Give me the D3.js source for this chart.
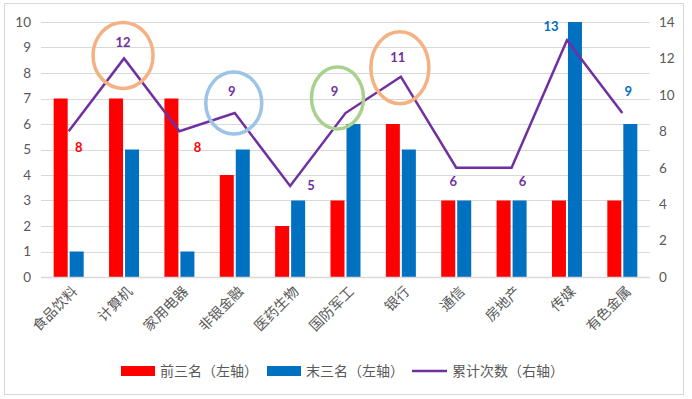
<!DOCTYPE html>
<html><head><meta charset="utf-8">
<script src="https://cdn.jsdelivr.net/npm/d3@7/dist/d3.min.js"></script>
<style>
html,body{margin:0;padding:0;background:#fff;}
svg text{font-family:"Noto Sans CJK SC","Noto Sans",sans-serif;}
</style></head>
<body><svg id="c" width="692" height="399"></svg>
<script>
const categories = ["食品饮料","计算机","家用电器","非银金融","医药生物","国防军工","银行","通信","房地产","传媒","有色金属"];
const top3 = [7,7,7,4,2,3,6,3,3,3,3];
const bottom3 = [1,5,1,5,3,6,5,3,3,10,6];
const cumulative = [8,12,8,9,5,9,11,6,6,13,9];
const leftTicks = [0,1,2,3,4,5,6,7,8,9,10];
const rightTicks = [0,2,4,6,8,10,12,14];
const seriesNames = ["前三名（左轴）","末三名（左轴）","累计次数（右轴）"];
// highlighted categories (circled in the original)
const circled = ["计算机","非银金融","国防军工","银行"];

const svg = d3.select("#c");
const W = 692, H = 399;
const m = {l:41, r:42, t:22, b:122};
const x = d3.scaleBand().domain(categories).range([m.l, W - m.r]);
const yL = d3.scaleLinear().domain([0,10]).range([H - m.b, m.t]);
const yR = d3.scaleLinear().domain([0,14]).range([H - m.b, m.t]);
const cx = c => x(c) + x.bandwidth()/2;
const gray = "#595959";
const numFont = "Lato, 'Liberation Sans', sans-serif";

// border
svg.append("rect").attr("x",4.5).attr("y",3.5).attr("width",679).attr("height",391)
  .attr("fill","none").attr("stroke","#d9d9d9");

// grid
svg.append("g").selectAll("line").data(leftTicks).join("line")
  .attr("x1", m.l).attr("x2", W - m.r)
  .attr("y1", d => Math.round(yL(d))+0.5).attr("y2", d => Math.round(yL(d))+0.5)
  .attr("stroke", "#d9d9d9").attr("stroke-width", 1);

// left axis
const gl = svg.append("g").attr("transform", `translate(${m.l},0)`)
  .call(d3.axisLeft(yL).tickValues(leftTicks).tickSize(0).tickPadding(10));
gl.select(".domain").remove();
gl.selectAll("text").attr("fill", gray).style("font-size","13.5px").style("font-family",numFont);

// right axis
const gr = svg.append("g").attr("transform", `translate(${W - m.r},0)`)
  .call(d3.axisRight(yR).tickValues(rightTicks).tickSize(0).tickPadding(9));
gr.select(".domain").remove();
gr.selectAll("text").attr("fill", gray).style("font-size","13.5px").style("font-family",numFont);

// bars
const bw = 14, gap = 1;
svg.append("g").selectAll("rect").data(categories).join("rect")
  .attr("x", c => cx(c) - gap - bw).attr("width", bw)
  .attr("y", (c,i) => yL(top3[i])).attr("height", (c,i) => yL(0) - yL(top3[i]))
  .attr("fill", "#ff0000");
svg.append("g").selectAll("rect").data(categories).join("rect")
  .attr("x", c => cx(c) + gap).attr("width", bw)
  .attr("y", (c,i) => yL(bottom3[i])).attr("height", (c,i) => yL(0) - yL(bottom3[i]))
  .attr("fill", "#0070c0");

// x axis baseline
svg.append("line").attr("x1", m.l).attr("x2", W - m.r)
  .attr("y1", Math.round(yL(0))+0.5).attr("y2", Math.round(yL(0))+0.5)
  .attr("stroke", "#d9d9d9").attr("stroke-width", 1.5);

// line
const line = d3.line().x((d,i) => cx(categories[i])).y(d => yR(d));
svg.append("path").datum(cumulative).attr("d", line)
  .attr("fill","none").attr("stroke","#7030a0").attr("stroke-width",2.5)
  .attr("stroke-linejoin","miter");

// ellipses around circled categories
const ellColors = {"计算机":"#f4b183","非银金融":"#9dc3e6","国防军工":"#a9d18e","银行":"#f4b183"};
const ellSize = {"计算机":[30,33],"非银金融":[28,31],"国防军工":[26,31],"银行":[29,36]};
const ellDy = {"计算机":-3,"非银金融":-10,"国防军工":-15,"银行":-9};
const ellDx = {"计算机":-1,"非银金融":-1,"国防军工":-8,"银行":-1};
svg.append("g").selectAll("ellipse").data(circled).join("ellipse")
  .attr("cx", c => cx(c) + ellDx[c])
  .attr("cy", c => yR(cumulative[categories.indexOf(c)]) + ellDy[c])
  .attr("rx", c => ellSize[c][0]).attr("ry", c => ellSize[c][1])
  .attr("fill","none").attr("stroke", c => ellColors[c]).attr("stroke-width", 3.5);

// data labels
const labColor = ["#ff0000","#7030a0","#ff0000","#7030a0","#7030a0","#7030a0","#7030a0","#7030a0","#7030a0","#0070c0","#0070c0"];
const labDx = [10,-1,18,-3,21,-11,-3,-3,11,-16,6];
const labDy = [16,-16,16,-22,0,-22,-19,14,14,-14,-22];
svg.append("g").selectAll("text").data(cumulative).join("text")
  .attr("x", (d,i) => cx(categories[i]) + labDx[i])
  .attr("y", (d,i) => yR(d) + labDy[i])
  .attr("dy","0.35em").attr("text-anchor","middle")
  .attr("fill",(d,i) => labColor[i])
  .style("font-size","13px").style("font-weight","bold")
  .style("font-family",numFont)
  .text(d => d);

// x labels
svg.append("g").selectAll("text").data(categories).join("text")
  .attr("transform", c => `translate(${cx(c)+6},${yL(0)+12}) rotate(-45)`)
  .attr("text-anchor","end").attr("dy","0.35em")
  .attr("fill", gray).style("font-size","14px")
  .text(c => c);

// legend
const lg = svg.append("g");
const legendItems = [
  {name: seriesNames[0], color:"#ff0000", type:"rect", x:121},
  {name: seriesNames[1], color:"#0070c0", type:"rect", x:267},
  {name: seriesNames[2], color:"#7030a0", type:"line", x:412}
];
const ly = 371;
legendItems.forEach(it => {
  if (it.type === "rect") {
    lg.append("rect").attr("x", it.x).attr("y", ly-5).attr("width",34).attr("height",10).attr("fill",it.color);
  } else {
    lg.append("line").attr("x1", it.x).attr("x2", it.x+35).attr("y1", ly).attr("y2", ly)
      .attr("stroke", it.color).attr("stroke-width",2.5);
  }
  lg.append("text").attr("x", it.x + (it.type==="rect"?39:40)).attr("y", ly).attr("dy","0.35em")
    .attr("fill", gray).style("font-size","14px").text(it.name);
});
</script></body></html>
